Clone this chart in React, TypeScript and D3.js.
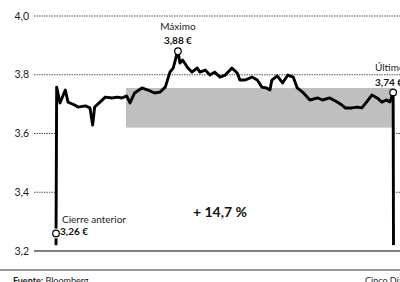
import React from "react";
import * as d3 from "d3";

// minutes since session open
const times = [0, 1, 6, 14, 18, 28, 33, 44, 51, 55, 58, 66, 74, 84, 92, 99, 106, 111, 118, 129, 138, 148, 156, 164, 171, 176, 181, 183, 186, 190, 198, 204, 212, 216, 224, 231, 238, 246, 254, 264, 272, 276, 284, 294, 302, 309, 316, 321, 324, 332, 340, 348, 356, 362, 370, 381, 393, 400, 411, 422, 429, 434, 444, 452, 459, 466, 474, 482, 489, 496, 501, 505, 506, 506.5];
const prices = [3.22, 3.758, 3.704, 3.748, 3.707, 3.697, 3.69, 3.694, 3.687, 3.629, 3.69, 3.707, 3.724, 3.721, 3.724, 3.721, 3.728, 3.704, 3.738, 3.755, 3.748, 3.738, 3.741, 3.758, 3.809, 3.823, 3.867, 3.88, 3.84, 3.85, 3.823, 3.809, 3.823, 3.809, 3.816, 3.799, 3.809, 3.792, 3.799, 3.823, 3.806, 3.782, 3.782, 3.792, 3.782, 3.758, 3.755, 3.748, 3.782, 3.796, 3.772, 3.799, 3.792, 3.755, 3.741, 3.714, 3.721, 3.714, 3.721, 3.707, 3.697, 3.687, 3.687, 3.69, 3.687, 3.707, 3.731, 3.721, 3.707, 3.714, 3.707, 3.731, 3.74, 3.22];

const yTicks = [3.2, 3.4, 3.6, 3.8, 4.0];
const band = { t0: 105, t1: 506.5, low: 3.62, high: 3.755 };
const prevClose = { t: 0, v: 3.26, label: "Cierre anterior", value: "3,26 €" };
const maxPoint = { t: 183, v: 3.88, label: "Máximo", value: "3,88 €" };
const lastPoint = { t: 506, v: 3.74, label: "Último", value: "3,74 €" };
const change = "+ 14,7 %";
const source = "Bloomberg";
const credit = "Cinco Días";

const W = 400;
const H = 282;
const FONT = "Lato, 'Open Sans', sans-serif";

export default function App() {
  const x = d3.scaleLinear().domain([0, 506.5]).range([56, 393.5]);
  const y = d3.scaleLinear().domain([3.2, 4.0]).range([251, 16]);
  const fmt = (v: number) => v.toFixed(1).replace(".", ",");
  const data = times.map((t, i) => [t, prices[i]] as [number, number]);
  const line = d3
    .line<[number, number]>()
    .x((d) => x(d[0]))
    .y((d) => y(d[1]));

  const x0 = x(0);
  const x1 = x(506.5);

  return (
    <svg
      width={W}
      height={H}
      style={{ position: "absolute", left: 0, top: 0, background: "#fff" }}
      fontFamily={FONT}
    >
      {/* gray band */}
      <rect
        x={x(band.t0)}
        y={y(band.high)}
        width={x(band.t1) - x(band.t0)}
        height={y(band.low) - y(band.high)}
        fill="#bfbfbf"
      />
      {/* grid */}
      {yTicks.map((t) => {
        const yy = y(t);
        const label = (
          <text
            key={"l" + t}
            x={29}
            y={yy}
            dy="0.35em"
            textAnchor="end"
            fontSize={10.5}
            fill="#222"
          >
            {fmt(t)}
          </text>
        );
        if (t === 3.2) {
          return (
            <g key={t}>
              <line x1={34} x2={W} y1={yy} y2={yy} stroke="#555" strokeWidth={1.5} />
              {label}
            </g>
          );
        }
        if (t >= 3.8) {
          return (
            <g key={t}>
              <line x1={34} x2={W} y1={yy} y2={yy} stroke="#555" strokeWidth={1} strokeDasharray="1.5,1" />
              {label}
            </g>
          );
        }
        return (
          <g key={t}>
            <line x1={34} x2={x0} y1={yy} y2={yy} stroke="#555" strokeWidth={1} strokeDasharray="1.5,1" />
            <line x1={x1} x2={W} y1={yy} y2={yy} stroke="#555" strokeWidth={1} strokeDasharray="1.5,1" />
            {label}
          </g>
        );
      })}
      {/* price line */}
      <path
        d={line(data) || ""}
        fill="none"
        stroke="#000"
        strokeWidth={2.9}
        strokeLinejoin="round"
        strokeLinecap="butt"
      />
      {/* markers */}
      {[prevClose, maxPoint, lastPoint].map((p, i) => (
        <g key={i}>
          {i === 0 && (
            <circle cx={x(p.t)} cy={y(p.v)} r={5} fill="#fff" />
          )}
          <circle
            cx={x(p.t)}
            cy={y(p.v)}
            r={3.3}
            fill="#fff"
            stroke="#000"
            strokeWidth={1.2}
          />
        </g>
      ))}
      {/* annotations */}
      <text x={x(maxPoint.t)} y={y(maxPoint.v) - 21} textAnchor="middle" fontSize={10} fill="#222">
        {maxPoint.label}
      </text>
      <text x={x(maxPoint.t)} y={y(maxPoint.v) - 7} textAnchor="middle" fontSize={10} fontWeight="bold" fill="#111">
        {maxPoint.value}
      </text>
      <text x={375} y={y(lastPoint.v) - 21} fontSize={10} fill="#222">
        {lastPoint.label}
      </text>
      <text x={375} y={y(lastPoint.v) - 6} fontSize={10} fontWeight="bold" fill="#111">
        {lastPoint.value}
      </text>
      <text x={x(prevClose.t) + 6} y={y(prevClose.v) - 10} fontSize={10} fill="#222">
        {prevClose.label}
      </text>
      <text x={x(prevClose.t) + 4} y={y(prevClose.v) + 2} fontSize={10} fontWeight="bold" fill="#111">
        {prevClose.value}
      </text>
      <text x={220} y={212} dy="0.35em" textAnchor="middle" fontSize={14} fontWeight="bold" fill="#111">
        {change}
      </text>
      {/* footer */}
      <line x1={0} x2={W} y1={270} y2={270} stroke="#999" strokeWidth={2} />
      <text x={13} y={284} fontSize={9} fill="#222">
        <tspan fontWeight="bold">Fuente:</tspan> {source}
      </text>
      <text x={365} y={284} fontSize={9} fill="#222">
        {credit}
      </text>
    </svg>
  );
}
